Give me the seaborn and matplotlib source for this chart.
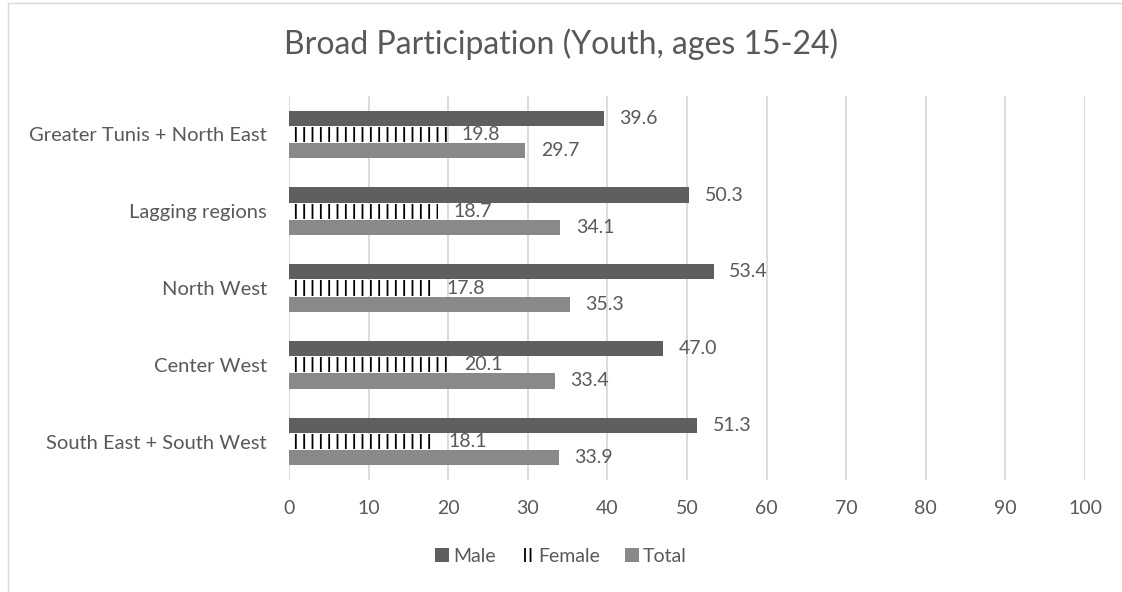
import seaborn as sns
import matplotlib.pyplot as plt
import matplotlib.patches as mpatches
import pandas as pd

regions = ["Greater Tunis + North East", "Lagging regions", "North West",
           "Center West", "South East + South West"]
groups = ["Male", "Female", "Total"]
male = [39.6, 50.3, 53.4, 47.0, 51.3]
female = [19.8, 18.7, 17.8, 20.1, 18.1]
total = [29.7, 34.1, 35.3, 33.4, 33.9]
x_ticks = [0, 10, 20, 30, 40, 50, 60, 70, 80, 90, 100]

sns.set_theme(style="white")
plt.rcParams['font.family'] = ['Lato', 'DejaVu Sans']
plt.rcParams['hatch.linewidth'] = 1.3
plt.rcParams['hatch.color'] = 'black'

text_col = "#595959"
colors = {"Male": "#5f5f5f", "Female": "#ffffff", "Total": "#898989"}

df = pd.DataFrame({
    'Region': regions * 3,
    'Group': [g for g in groups for _ in regions],
    'Value': male + female + total,
})

fig = plt.figure(figsize=(11.22, 5.92), dpi=100)
ax = fig.add_axes([0.2576, 0.189, 0.7094, 0.649])

sns.barplot(data=df, y='Region', x='Value', hue='Group', hue_order=groups,
            order=regions, palette=colors, orient='h', width=0.63, gap=0.06,
            linewidth=0, ax=ax, legend=False)

# female bars: white with vertical black stripes
for bar in ax.containers[1]:
    bar.set_hatch('||')
    bar.set_edgecolor('black')
    bar.set_linewidth(0)

for cont in ax.containers:
    ax.bar_label(cont, fmt='%.1f', padding=11, fontsize=14, color=text_col)

ax.set_xlim(0, 100)
ax.set_xticks(x_ticks)
ax.grid(axis='x', color='#d9d9d9', linewidth=1.3)
ax.set_axisbelow(True)
for s in ax.spines.values():
    s.set_visible(False)
ax.tick_params(axis='x', length=0, pad=14, labelsize=14, labelcolor=text_col)
ax.tick_params(axis='y', length=0, pad=16, labelsize=14.5, labelcolor=text_col)
ax.set_xlabel('')
ax.set_ylabel('')

fig.text(0.5, 0.925, "Broad Participation (Youth, ages 15-24)", ha='center',
         va='center', fontsize=23, color=text_col)

handles = [mpatches.Patch(facecolor=colors["Male"], linewidth=0, label="Male"),
           mpatches.Patch(facecolor='white', edgecolor='black', linewidth=0,
                          hatch='|||', label="Female"),
           mpatches.Patch(facecolor=colors["Total"], linewidth=0, label="Total")]
leg = fig.legend(handles=handles, loc='center', bbox_to_anchor=(0.5, 0.06),
                 ncol=3, frameon=False, fontsize=14, handlelength=0.7,
                 handleheight=0.7, handletextpad=0.2, columnspacing=1.3)
for t in leg.get_texts():
    t.set_color(text_col)

# chart border
fig.add_artist(plt.Line2D([0.007, 0.007], [0, 0.995], transform=fig.transFigure,
                          color='#d9d9d9', linewidth=1))
fig.add_artist(plt.Line2D([0.007, 1], [0.995, 0.995], transform=fig.transFigure,
                          color='#d9d9d9', linewidth=1))

fig.savefig("out.png", dpi=100)
